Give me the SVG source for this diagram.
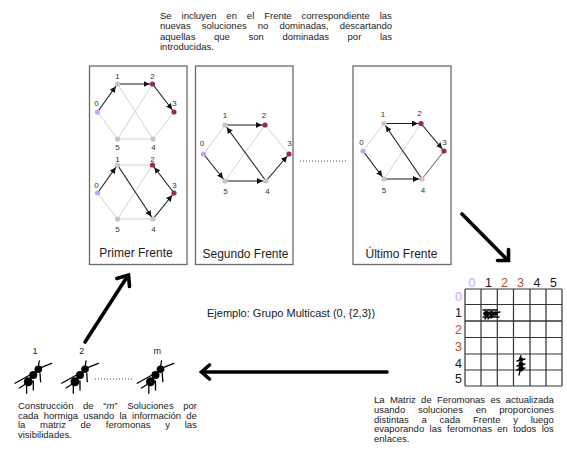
<svg xmlns="http://www.w3.org/2000/svg" xmlns:xlink="http://www.w3.org/1999/xlink" width="567" height="461" viewBox="0 0 567 461">
  <style>
    text { font-family: "Liberation Sans", Arial, sans-serif; fill: #1a1a1a; }
    .para { font-size: 9.5px; }
    .lbl { font-size: 8px; fill: #333; text-anchor: middle; }
    .cap { font-size: 12px; text-anchor: middle; fill: #222; }
    .panel { fill: #fff; stroke: #6a6a6a; stroke-width: 1.3; }
    .e { stroke: #d2d2d2; stroke-width: 1; fill: none; }
    .d { stroke: #555; stroke-width: 1; fill: none; }
    .a { stroke: #1a1a1a; stroke-width: 1.1; fill: none; marker-end: url(#ah); }
    .n0 { fill: #c9a3f0; }
    .ng { fill: #c6c6c6; }
    .nr { fill: #9a2858; }
    .big { stroke: #000; stroke-width: 3.6; fill: none; stroke-linecap: round; stroke-linejoin: miter; }
    .dots { stroke: #444; stroke-width: 1; stroke-dasharray: 1 2; fill: none; }
    .grid { stroke: #333; stroke-width: 1.2; fill: none; }
    .hd { font-size: 12.5px; text-anchor: middle; }
    .ant circle { fill: #000; }
    .ant line { stroke: #000; stroke-width: 1.3; stroke-linecap: round; }
  </style>
  <defs>
    <marker id="ah" viewBox="0 0 10 6" refX="9" refY="3" markerWidth="10" markerHeight="6" markerUnits="userSpaceOnUse" orient="auto">
      <path d="M0,0 L6,3 L0,6 z" fill="#111"/>
    </marker>
    <!-- ant seen from above, head to the upper right; origin at the thorax -->
    <g id="antShape" class="ant">
      <line x1="-18.3" y1="8.3" x2="-1.7" y2="-1"/>
      <line x1="-14" y1="13" x2="-3" y2="6"/>
      <line x1="8.3" y1="-7.7" x2="18.3" y2="-11.7"/>
      <line x1="-6.7" y1="10" x2="-6.7" y2="18.3"/>
      <line x1="0" y1="6" x2="0" y2="15"/>
      <line x1="6.7" y1="-1.7" x2="7.3" y2="6.7"/>
      <line x1="6" y1="-14" x2="5" y2="-8"/>
      <circle cx="-5" cy="6.7" r="4.5"/>
      <circle cx="0" cy="0" r="4"/>
      <circle cx="5" cy="-5.7" r="3.8"/>
    </g>
  </defs>

  <rect width="567" height="461" fill="#fff"/>

  <!-- caption above the fronts (justified via word-spacing) -->
  <g id="texto-frentes" class="para">
    <text x="160" y="18.5" word-spacing="7.3">Se incluyen en el Frente correspondiente las</text>
    <text x="160" y="29" word-spacing="8.5">nuevas soluciones no dominadas, descartando</text>
    <text x="160" y="39.5" word-spacing="16">aquellas que son dominadas por las</text>
    <text x="160" y="50">introducidas.</text>
  </g>

  <!-- first front: two solutions -->
  <g id="primer-frente">
    <rect class="panel" x="89.5" y="66" width="97.5" height="198.5"/>
    <!-- upper solution -->
    <line class="e" x1="117.5" y1="84" x2="153" y2="139"/>
    <line class="e" x1="152.5" y1="84" x2="117.5" y2="139"/>
    <line class="e" x1="174" y1="112" x2="153" y2="139"/>
    <line class="e" x1="153" y1="139" x2="117.5" y2="139"/>
    <line class="e" x1="117.5" y1="139" x2="97.5" y2="112"/>
    <line class="a" x1="97.5" y1="112" x2="117.5" y2="84"/>
    <line class="a" x1="117.5" y1="84" x2="152.5" y2="84"/>
    <line class="a" x1="152.5" y1="84" x2="174" y2="112"/>
    <circle class="n0" cx="97.5" cy="112" r="2.6"/>
    <circle class="ng" cx="117.5" cy="84" r="2.6"/>
    <circle class="nr" cx="152.5" cy="84" r="2.6"/>
    <circle class="nr" cx="174" cy="112" r="2.6"/>
    <circle class="ng" cx="153" cy="139" r="2.6"/>
    <circle class="ng" cx="117.5" cy="139" r="2.6"/>
    <text class="lbl" x="96.5" y="106">0</text>
    <text class="lbl" x="117.5" y="78.5">1</text>
    <text class="lbl" x="152.5" y="78.5">2</text>
    <text class="lbl" x="174.5" y="106">3</text>
    <text class="lbl" x="153.5" y="150">4</text>
    <text class="lbl" x="117.5" y="150">5</text>
    <!-- lower solution -->
    <line class="e" x1="117.5" y1="165" x2="152.5" y2="165"/>
    <line class="e" x1="152.5" y1="165" x2="117.5" y2="219"/>
    <line class="e" x1="117.5" y1="219" x2="97.5" y2="193"/>
    <line class="e" x1="117.5" y1="219" x2="153" y2="219"/>
    <line class="a" x1="97.5" y1="193" x2="117.5" y2="165"/>
    <line class="a" x1="117.5" y1="165" x2="153" y2="219"/>
    <line class="a" x1="153" y1="219" x2="174" y2="193"/>
    <line class="a" x1="174" y1="193" x2="152.5" y2="165"/>
    <circle class="n0" cx="97.5" cy="193" r="2.6"/>
    <circle class="ng" cx="117.5" cy="165" r="2.6"/>
    <circle class="nr" cx="152.5" cy="165" r="2.6"/>
    <circle class="nr" cx="174" cy="193" r="2.6"/>
    <circle class="ng" cx="153" cy="219" r="2.6"/>
    <circle class="ng" cx="117.5" cy="219" r="2.6"/>
    <text class="lbl" x="96.5" y="188">0</text>
    <text class="lbl" x="117.5" y="161.5">1</text>
    <text class="lbl" x="152.5" y="161.5">2</text>
    <text class="lbl" x="174.5" y="188">3</text>
    <text class="lbl" x="153.5" y="231.5">4</text>
    <text class="lbl" x="117.5" y="231.5">5</text>
    <text class="cap" x="136" y="256.5">Primer Frente</text>
  </g>

  <!-- second front -->
  <g id="segundo-frente">
    <rect class="panel" x="195.5" y="66" width="97.5" height="198.5"/>
    <line class="e" x1="203.5" y1="154" x2="225" y2="125"/>
    <line class="e" x1="265" y1="125" x2="225" y2="181"/>
    <line class="e" x1="265" y1="125" x2="289" y2="154"/>
    <line class="a" x1="225" y1="125" x2="265" y2="125"/>
    <line class="a" x1="266" y1="181" x2="225" y2="125"/>
    <line class="a" x1="203.5" y1="154" x2="225" y2="181"/>
    <line class="a" x1="225" y1="181" x2="266" y2="181"/>
    <line class="a" x1="266" y1="181" x2="289" y2="154"/>
    <circle class="n0" cx="203.5" cy="154" r="2.6"/>
    <circle class="ng" cx="225" cy="125" r="2.6"/>
    <circle class="nr" cx="265" cy="125" r="2.6"/>
    <circle class="nr" cx="289" cy="154" r="2.6"/>
    <circle class="ng" cx="266" cy="181" r="2.6"/>
    <circle class="ng" cx="225" cy="181" r="2.6"/>
    <text class="lbl" x="202" y="146">0</text>
    <text class="lbl" x="225" y="118">1</text>
    <text class="lbl" x="264" y="118">2</text>
    <text class="lbl" x="289.5" y="146">3</text>
    <text class="lbl" x="267.5" y="194">4</text>
    <text class="lbl" x="225.5" y="194">5</text>
    <text class="cap" x="245.5" y="257.5">Segundo Frente</text>
  </g>

  <!-- last front -->
  <g id="ultimo-frente">
    <rect class="panel" x="353" y="66" width="98" height="198.5"/>
    <line class="e" x1="363" y1="151" x2="384" y2="123.5"/>
    <line class="e" x1="421" y1="123.5" x2="384" y2="179"/>
    <line class="d" x1="444" y1="151" x2="422" y2="179"/>
    <line class="a" x1="384" y1="123.5" x2="421" y2="123.5"/>
    <line class="a" x1="421" y1="123.5" x2="444" y2="151"/>
    <line class="a" x1="422" y1="179" x2="384" y2="123.5"/>
    <line class="a" x1="363" y1="151" x2="384" y2="179"/>
    <line class="a" x1="384" y1="179" x2="422" y2="179"/>
    <circle class="n0" cx="363" cy="151" r="2.6"/>
    <circle class="ng" cx="384" cy="123.5" r="2.6"/>
    <circle class="nr" cx="421" cy="123.5" r="2.6"/>
    <circle class="nr" cx="444" cy="151" r="2.6"/>
    <circle class="ng" cx="422" cy="179" r="2.6"/>
    <circle class="ng" cx="384" cy="179" r="2.6"/>
    <text class="lbl" x="361.5" y="145">0</text>
    <text class="lbl" x="383" y="116.5">1</text>
    <text class="lbl" x="419.5" y="116">2</text>
    <text class="lbl" x="444.5" y="145">3</text>
    <text class="lbl" x="423" y="192.5">4</text>
    <text class="lbl" x="384" y="192.5">5</text>
    <text class="cap" x="401.5" y="257.5">Último Frente</text>
  </g>

  <!-- pheromone matrix -->
  <g id="matriz-feromonas">
    <path class="grid" d="M465,289 H562 M465,304.5 H562 M465,321 H562 M465,337.5 H562 M465,354 H562 M465,370 H562 M465,386 H562
                          M465,289 V386 M481,289 V386 M497.3,289 V386 M513.5,289 V386 M530,289 V386 M546,289 V386 M562,289 V386"/>
    <path class="grid" d="M465,304.5 H562 M465,321 H562" stroke-width="1.6"/>
    <text class="hd" x="472" y="287" style="fill:#c9a3f5">0</text>
    <text class="hd" x="488.5" y="287">1</text>
    <text class="hd" x="504.5" y="287" style="fill:#b0502a">2</text>
    <text class="hd" x="520.5" y="287" style="fill:#b0502a">3</text>
    <text class="hd" x="537" y="287">4</text>
    <text class="hd" x="553.5" y="287">5</text>
    <text class="hd" x="458.5" y="301" style="fill:#c9a3f5">0</text>
    <text class="hd" x="458.5" y="317">1</text>
    <text class="hd" x="458.5" y="334" style="fill:#b0502a">2</text>
    <text class="hd" x="458.5" y="350.5" style="fill:#b0502a">3</text>
    <text class="hd" x="458.5" y="367.5">4</text>
    <text class="hd" x="458.5" y="383">5</text>
    <!-- ant in cell (1,1), lying horizontally -->
    <g class="ant">
      <line x1="483" y1="310" x2="497" y2="310"/>
      <line x1="483" y1="317" x2="499" y2="317"/>
      <line x1="485" y1="319" x2="489" y2="314"/>
      <line x1="488" y1="319" x2="492" y2="314"/>
      <line x1="491" y1="318" x2="495" y2="314"/>
      <line x1="495" y1="313" x2="500" y2="312"/>
      <ellipse cx="486.5" cy="313.5" rx="3.3" ry="2.6" fill="#000"/>
      <ellipse cx="491.5" cy="313.5" rx="2.6" ry="2.4" fill="#000"/>
      <ellipse cx="495.5" cy="313.5" rx="2.2" ry="2.2" fill="#000"/>
    </g>
    <!-- ant in cell (4,3), standing vertically -->
    <g class="ant">
      <line x1="521" y1="355.5" x2="520" y2="358"/>
      <line x1="517" y1="361" x2="525" y2="359"/>
      <line x1="517" y1="366" x2="525" y2="364"/>
      <line x1="517" y1="370" x2="525" y2="368"/>
      <line x1="520" y1="371" x2="519" y2="375"/>
      <ellipse cx="521" cy="359.5" rx="2.3" ry="2.3" fill="#000"/>
      <ellipse cx="521" cy="364" rx="2.4" ry="2.6" fill="#000"/>
      <ellipse cx="521" cy="368.5" rx="2.6" ry="3" fill="#000"/>
    </g>
  </g>

  <text id="ejemplo" x="207" y="317" style="font-size:11px">Ejemplo: Grupo Multicast (0, {2,3})</text>

  <!-- ants building solutions -->
  <g id="hormigas">
    <text x="35" y="354" style="font-size:9px" text-anchor="middle">1</text>
    <text x="81.7" y="354" style="font-size:9px" text-anchor="middle">2</text>
    <text x="157.3" y="354" style="font-size:9px" text-anchor="middle">m</text>
    <use xlink:href="#antShape" x="33.3" y="375"/>
    <use xlink:href="#antShape" x="80" y="375"/>
    <use xlink:href="#antShape" x="155.5" y="375"/>
    <line class="dots" x1="95" y1="379" x2="132" y2="379"/>
  </g>

  <g id="texto-hormigas" class="para">
    <text x="18" y="409" word-spacing="7">Construcción de “<tspan font-style="italic">m</tspan>” Soluciones por</text>
    <text x="18" y="418.5" word-spacing="2.5">cada hormiga usando la información de</text>
    <text x="18" y="428" word-spacing="12">la matriz de feromonas y las</text>
    <text x="18" y="437.5">visibilidades.</text>
  </g>

  <g id="texto-matriz" class="para">
    <text x="374" y="403.3" word-spacing="2.7">La Matriz de Feromonas es actualizada</text>
    <text x="374" y="413" word-spacing="10.2">usando soluciones en proporciones</text>
    <text x="374" y="422.7" word-spacing="10.1">distintas a cada Frente y luego</text>
    <text x="374" y="432.4" word-spacing="2.7">evaporando las feromonas en todos los</text>
    <text x="374" y="442.1">enlaces.</text>
  </g>

  <!-- flow arrows -->
  <g id="conectores">
    <line class="dots" x1="300" y1="161" x2="347" y2="161"/>
    <path class="big" d="M462,214 L507,259.5"/>
    <path class="big" d="M497.5,260.5 H508.5 V249.5" stroke-linecap="square"/>
    <path class="big" d="M387,372 H203"/>
    <path class="big" d="M209.5,365 L201.5,372 L209.5,379" stroke-linecap="square"/>
    <path class="big" d="M85,342 L127,277"/>
    <path class="big" d="M116.8,278.5 L128.5,275 L129.5,286.5" stroke-linecap="square"/>
  </g>
</svg>
